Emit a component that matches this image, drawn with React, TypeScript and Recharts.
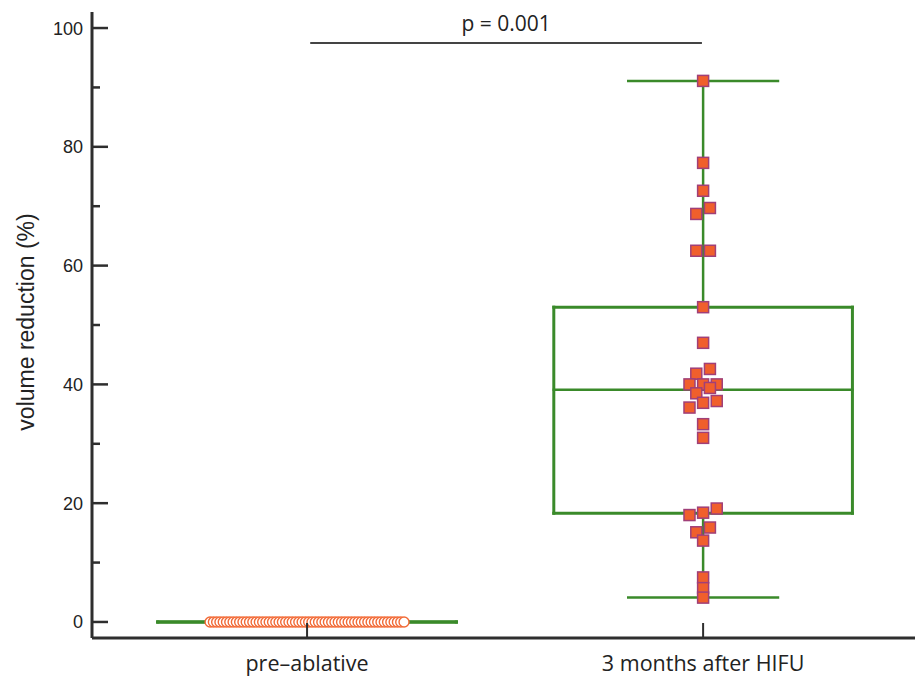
import { ScatterChart, Scatter, XAxis, YAxis, ReferenceLine, Label } from 'recharts';

const groups = ['pre–ablative', '3 months after HIFU'];
const groupPos = [1, 2];

const yTicks = [0, 10, 20, 30, 40, 50, 60, 70, 80, 90, 100];
const yLabelTicks = [0, 20, 40, 60, 80, 100];

// every pre-ablative value is 0
const preValues = [
  0, 0, 0, 0, 0, 0, 0, 0, 0, 0, 0, 0, 0, 0, 0, 0, 0, 0, 0, 0, 0, 0, 0, 0, 0, 0, 0, 0, 0, 0,
  0, 0, 0, 0, 0, 0, 0, 0, 0, 0, 0, 0, 0, 0, 0, 0, 0, 0, 0, 0, 0, 0, 0, 0, 0, 0, 0, 0, 0, 0,
];
const preJitter = [
  -29.5, -28.5, -27.5, -26.5, -25.5, -24.5, -23.5, -22.5, -21.5, -20.5, -19.5, -18.5, -17.5, -16.5, -15.5,
  -14.5, -13.5, -12.5, -11.5, -10.5, -9.5, -8.5, -7.5, -6.5, -5.5, -4.5, -3.5, -2.5, -1.5, -0.5,
  0.5, 1.5, 2.5, 3.5, 4.5, 5.5, 6.5, 7.5, 8.5, 9.5, 10.5, 11.5, 12.5, 13.5, 14.5,
  15.5, 16.5, 17.5, 18.5, 19.5, 20.5, 21.5, 22.5, 23.5, 24.5, 25.5, 26.5, 27.5, 28.5, 29.5,
];

const hifuValues = [91.1, 77.3, 72.6, 69.7, 68.7, 62.5, 62.5, 53.0, 47.0, 42.6, 41.8, 40.0, 40.0, 40.0, 39.4,
  38.5, 37.2, 36.9, 36.1, 33.3, 31.0, 19.1, 18.4, 18.0, 15.9, 15.1, 13.7, 7.5, 5.7, 4.1];
const hifuJitter = [0, 0, 0, 1, -1, 1, -1, 0, 0, 1, -1, -2, 0, 2, 1, -1, 2, 0, -2, 0, 0, 2, 0, -2, 1, -1, 0, 0, 0, 0];

// box stats per group: [pre, hifu]
const boxMin = [0, 4.1];
const boxQ1 = [0, 18.3];
const boxMedian = [0, 39.1];
const boxQ3 = [0, 53.0];
const boxMax = [0, 91.1];

const JITTER = 0.0172;
const PRE_JITTER = 0.0083;
const BOX_HALF = 0.377;
const CAP_HALF = 0.189;
const GREEN = '#3a8a2a';
const AXIS = '#2e2e2e';

const preData = preValues.map((v, i) => ({ x: groupPos[0] + preJitter[i] * PRE_JITTER, y: v }));
const hifuData = hifuValues.map((v, i) => ({ x: groupPos[1] + hifuJitter[i] * JITTER, y: v }));

const YTick = ({ x, y, payload }: any) => {
  const major = yLabelTicks.includes(payload.value);
  return (
    <g>
      <line x1={x} x2={x + (major ? 16 : 8)} y1={y} y2={y} stroke={AXIS} strokeWidth={2.5} />
      {major && (
        <text x={x - 9} y={y} dy="0.36em" textAnchor="end" fontSize={18}
          fontFamily="Liberation Sans, Arial" fill="#222">{payload.value}</text>
      )}
    </g>
  );
};

const XTick = ({ x, y, payload }: any) => (
  <g>
    <line x1={x} x2={x} y1={y - 1} y2={y - 15} stroke={AXIS} strokeWidth={2} />
    <text x={x} y={y + 33} textAnchor="middle" fontSize={21.5} fontFamily="Open Sans" fill="#222">
      {groups[groupPos.indexOf(payload.value)]}
    </text>
  </g>
);

const Square = ({ cx, cy }: any) => (
  <rect x={cx - 5.5} y={cy - 5.5} width={11} height={11} fill="#f05f2c" stroke="#a03f78" strokeWidth={1.5} />
);

const Ring = ({ cx, cy }: any) => (
  <circle cx={cx} cy={cy} r={5} fill="#fff" stroke="#f26a36" strokeWidth={1.4} />
);

function boxLines(i: number) {
  const c = groupPos[i];
  const segs: { a: [number, number]; b: [number, number]; w: number }[] = [
    { a: [c, boxMin[i]], b: [c, boxQ1[i]], w: 2.5 },
    { a: [c, boxQ3[i]], b: [c, boxMax[i]], w: 2.5 },
    { a: [c - CAP_HALF, boxMin[i]], b: [c + CAP_HALF, boxMin[i]], w: 2.5 },
    { a: [c - CAP_HALF, boxMax[i]], b: [c + CAP_HALF, boxMax[i]], w: 2.5 },
    { a: [c - BOX_HALF, boxQ1[i]], b: [c + BOX_HALF, boxQ1[i]], w: 3 },
    { a: [c - BOX_HALF, boxQ3[i]], b: [c + BOX_HALF, boxQ3[i]], w: 3 },
    { a: [c - BOX_HALF, boxMedian[i]], b: [c + BOX_HALF, boxMedian[i]], w: 2.5 },
    { a: [c - BOX_HALF, boxQ1[i]], b: [c - BOX_HALF, boxQ3[i]], w: 3 },
    { a: [c + BOX_HALF, boxQ1[i]], b: [c + BOX_HALF, boxQ3[i]], w: 3 },
  ];
  return segs.map((s, k) => (
    <ReferenceLine key={`b${i}-${k}`} segment={[{ x: s.a[0], y: s.a[1] }, { x: s.b[0], y: s.b[1] }]}
      stroke={GREEN} strokeWidth={s.w} strokeLinecap="square" ifOverflow="visible" />
  ));
}

export default function App() {
  return (
    <div style={{ position: 'absolute', left: 0, top: 0, background: '#fff' }}>
      <ScatterChart width={915} height={678} margin={{ top: 12, right: 0, bottom: 0, left: 0 }}>
        <XAxis type="number" dataKey="x" domain={[0.457, 2.535]} ticks={groupPos} allowDataOverflow
          tickSize={0} tickMargin={0} tick={<XTick />} height={40}
          axisLine={{ stroke: AXIS, strokeWidth: 3 }} />
        <YAxis type="number" dataKey="y" domain={[-2.7, 102.7]} ticks={yTicks} allowDataOverflow
          tickSize={0} tickMargin={0} tick={<YTick />} width={92} interval={0}
          axisLine={{ stroke: AXIS, strokeWidth: 3 }}
          label={<Label content={() => (
            <text transform="translate(34, 322) rotate(-90)" textAnchor="middle" fontSize={23}
              fontFamily="Liberation Sans, Arial" fill="#222">volume reduction (%)</text>
          )} />} />
        {boxLines(0)}
        {boxLines(1)}
        <ReferenceLine segment={[{ x: 1.008, y: 97.5 }, { x: 1.997, y: 97.5 }]} stroke="#444" strokeWidth={2}
          ifOverflow="visible"
          label={<Label value="p = 0.001" position="top" offset={12} fill="#222" fontSize={21} fontFamily="Open Sans" />} />
        <Scatter data={preData} shape={<Ring />} isAnimationActive={false} />
        <Scatter data={hifuData} shape={<Square />} isAnimationActive={false} />
      </ScatterChart>
    </div>
  );
}
